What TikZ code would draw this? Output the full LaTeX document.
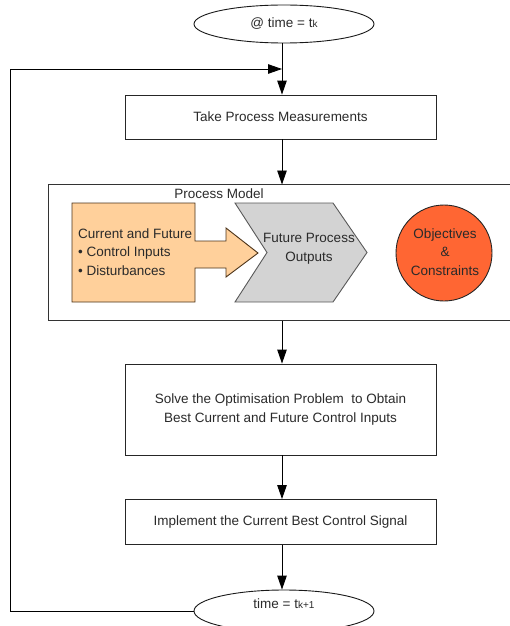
\documentclass[tikz,border=0pt]{standalone}
\usepackage{fontspec}
\setmainfont{Liberation Sans}
\usetikzlibrary{arrows.meta,shapes.geometric}
\definecolor{peach}{HTML}{FFD09B}
\definecolor{chevgrey}{HTML}{D3D3D3}
\definecolor{redorange}{HTML}{FF6633}
\definecolor{txt}{HTML}{2A2A2A}
\begin{document}
\begin{tikzpicture}[x=1pt,y=-1pt,
  every node/.style={font=\fontsize{13.5}{18.7}\selectfont, text=txt, inner sep=0pt},
  stepbox/.style={draw=black!85, line width=0.9pt, rectangle, minimum width=311pt, align=center},
  oval/.style={draw=black!90, line width=0.9pt, ellipse, minimum width=180pt},
  flow/.style={line width=0.9pt, -{Triangle[length=14pt,width=9.5pt]}},
  outline/.style={line width=0.9pt}
]
\useasboundingbox (0,0) rectangle (510,626);

% start ellipse
\node[oval, minimum height=38pt] (start) at (284,24) {@ time = t{\fontsize{10}{12}\selectfont k}};
% step boxes
\node[stepbox, minimum height=44pt] (meas) at (280.5,117) {Take Process Measurements};
% process model container
\draw[outline, draw=black!80] (48,184.5) rectangle (512,320.5);
\coordinate (pmtop) at (282,184.5);
\coordinate (pmbot) at (282,320.5);
\node[anchor=center] (pmlabel) at (219,194) {Process Model};

% orange block arrow
\draw[outline, draw=black!60!brown, fill=peach]
  (72,203) -- (195,203) -- (195,241) -- (226,241) -- (226,228) -- (258,253)
  -- (226,277) -- (226,268) -- (195,268) -- (195,302) -- (72,302) -- cycle;
\node[anchor=west, align=left] (inputs) at (78,252)
  {Current and Future\\\textbullet\ Control Inputs\\\textbullet\ Disturbances};

% grey chevron
\draw[outline, draw=black!65, fill=chevgrey]
  (235,203) -- (333,203) -- (367,252.5) -- (333,302) -- (235,302) -- (267,252.5) -- cycle;
\node[align=center] (outputs) at (309,249) {Future Process\\Outputs};

% objectives circle
\node[circle, draw=black!85, line width=0.9pt, fill=redorange, minimum size=96pt] (obj) at (444,253) {};
\node[align=center] (objtext) at (445,252) {Objectives\\\&\\Constraints};

\node[stepbox, minimum height=91pt] (solve) at (280.5,409.5)
  {Solve the Optimisation Problem\ \ to Obtain\\Best Current and Future Control Inputs};
\node[stepbox, minimum height=45pt] (impl) at (280.5,522) {Implement the Current Best Control Signal};

\node[oval, minimum height=42pt] (next) at (284,611) {};
\node (nexttext) at (284,604) {time = t{\fontsize{10}{12}\selectfont k+1}};

% connectors
\coordinate (join) at (282,69);
\draw[flow] (282,0 |- start.south) -- (meas.north -| 282,0);
\draw[flow] (meas.south -| 282,0) -- (pmtop);
\draw[flow] (pmbot) -- (solve.north -| 282,0);
\draw[flow] (solve.south -| 282,0) -- (impl.north -| 282,0);
\draw[flow] (impl.south -| 282,0) -- (next.north -| 282,0);
\draw[flow] (next.west) -- (10,0 |- next.west) -- (10,69) -- (join);
\end{tikzpicture}
\end{document}
